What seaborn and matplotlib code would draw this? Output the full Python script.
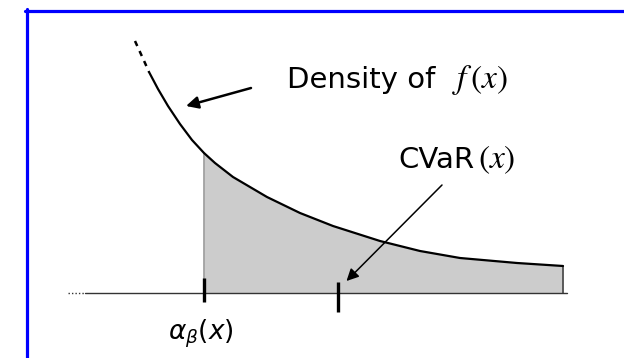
import matplotlib
matplotlib.use("Agg")
import matplotlib.pyplot as plt
from matplotlib.lines import Line2D
import seaborn as sns
import pandas as pd

# density curve (loss relative to alpha, density height)
loss = [-1.725, -1.6, -1.475, -1.375, -1.15, -0.9, -0.6, -0.3, 0.0, 0.275,
        0.725, 1.575, 2.4, 3.225, 4.4, 5.4, 6.4, 7.825, 8.975]
density = [2.52, 2.41, 2.30, 2.21, 2.04, 1.87, 1.69, 1.53, 1.40, 1.30,
           1.16, 0.96, 0.80, 0.67, 0.52, 0.42, 0.35, 0.30, 0.27]
n_dashed = 4
alpha_beta = 0.0
cvar = 3.35

df = pd.DataFrame({"loss": loss, "density": density})
solid = df.iloc[n_dashed - 1:]
dashed = df.iloc[:n_dashed]
tail = df[df["loss"] >= alpha_beta]

sns.set_style("white")
plt.rcParams["font.family"] = ["DejaVu Sans"]

fig = plt.figure(figsize=(6.24, 3.58), dpi=100)
ax = fig.add_axes([0, 0, 1, 1])

# shaded tail beyond alpha
ax.fill_between(tail["loss"], 0, tail["density"], color="#cccccc", lw=0)
ax.plot([alpha_beta, alpha_beta], [0, tail["density"].iloc[0]], color="#999999", lw=1.2)
ax.plot([tail["loss"].iloc[-1]] * 2, [0, tail["density"].iloc[-1]], color="#444444", lw=1.2)

# horizontal axis
ax.plot([-3.4, -2.975], [0, 0], color="#333333", lw=1, ls=(0, (1, 1.5)))
ax.plot([-2.975, 9.075], [0, 0], color="#333333", lw=1)

# density curve
sns.lineplot(data=solid, x="loss", y="density", color="black", lw=1.6, ax=ax, sort=False)
ax.plot(dashed["loss"], dashed["density"], color="black", lw=1.8, ls=(0, (2.2, 2.2)))

# tick marks
ax.plot([alpha_beta, alpha_beta], [0.15, -0.09], color="black", lw=2.4, solid_capstyle="butt")
ax.plot([cvar, cvar], [0.113, -0.187], color="black", lw=2.4, solid_capstyle="butt")

# labels
ax.text(2.075, 2.05, "Density of", fontsize=21, va="baseline", ha="left", color="black")
ax.text(6.2, 2.05, r"$f\,(x)$", fontsize=24, va="baseline", ha="left",
        color="black", math_fontfamily="stix")
ax.text(4.85, 1.25, "CVaR", fontsize=21, va="baseline", ha="left", color="black")
ax.text(6.85, 1.25, r"$(x)$", fontsize=24, va="baseline", ha="left",
        color="black", math_fontfamily="stix")
ax.text(-0.075, -0.47, r"$\alpha_\beta(x)$", fontsize=19, va="baseline",
        ha="center", color="black", math_fontfamily="dejavusans")

ax.annotate("", xy=(-0.45, 1.87), xytext=(1.175, 2.05),
            arrowprops=dict(arrowstyle="-|>", color="black", lw=1.8,
                            mutation_scale=18, shrinkA=0, shrinkB=0))
ax.annotate("", xy=(3.5625, 0.12), xytext=(5.95, 1.08),
            arrowprops=dict(arrowstyle="-|>", color="black", lw=1.1,
                            mutation_scale=18, shrinkA=0, shrinkB=0))

ax.set_xlim(-5.1, 10.5)
ax.set_ylim(-0.65, 2.93)
ax.set_axis_off()

# blue frame, cut off at right and bottom
fig.add_artist(Line2D([25 / 624, 1], [1 - 10.5 / 358] * 2, color="#0000ff", lw=2.3))
fig.add_artist(Line2D([26.5 / 624] * 2, [0, 1 - 9 / 358], color="#0000ff", lw=2.3))

fig.savefig("out.png", dpi=100)
